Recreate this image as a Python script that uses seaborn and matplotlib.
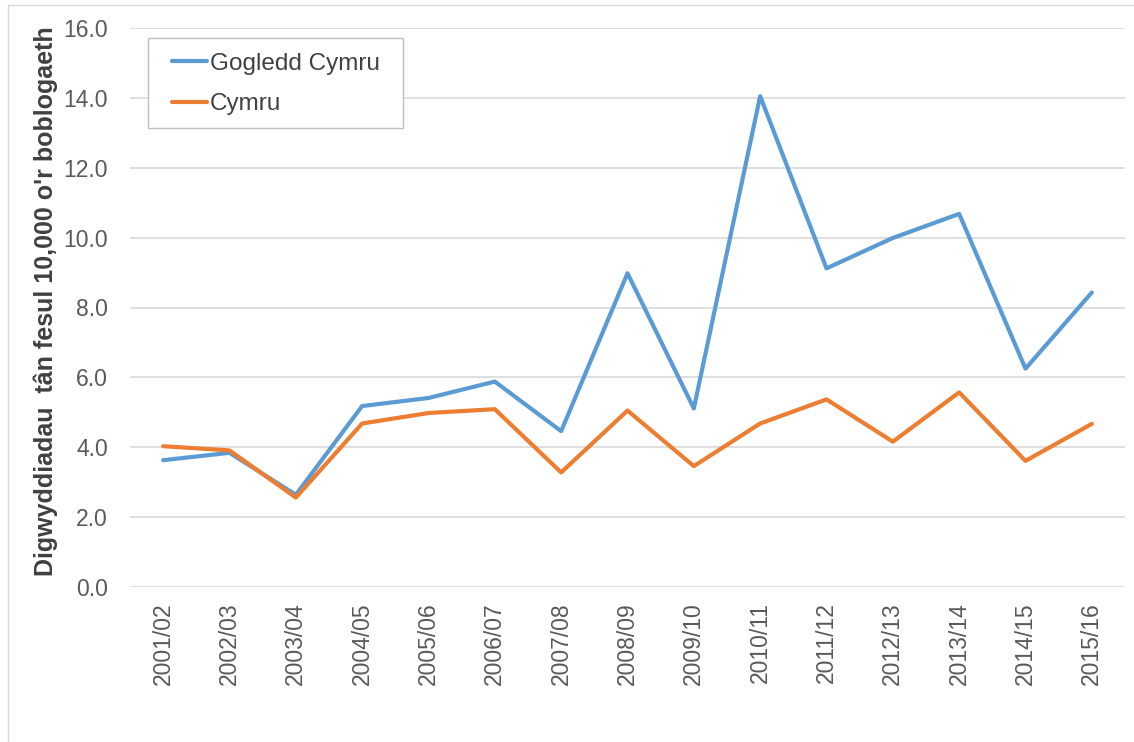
import matplotlib
matplotlib.use("Agg")
import matplotlib.pyplot as plt
import seaborn as sns
import pandas as pd
from matplotlib.patches import Rectangle
from matplotlib.lines import Line2D

years = ["2001/02", "2002/03", "2003/04", "2004/05", "2005/06", "2006/07", "2007/08",
         "2008/09", "2009/10", "2010/11", "2011/12", "2012/13", "2013/14", "2014/15", "2015/16"]
gogledd_cymru = [3.63, 3.84, 2.64, 5.18, 5.41, 5.88, 4.46, 8.98, 5.11, 14.05, 9.12, 9.99, 10.68, 6.25, 8.43]
cymru = [4.03, 3.91, 2.56, 4.68, 4.98, 5.09, 3.28, 5.05, 3.46, 4.68, 5.37, 4.16, 5.57, 3.61, 4.67]
series_names = ["Gogledd Cymru", "Cymru"]
colors = ["#5B9BD5", "#ED7D31"]
y_ticks = [0, 2, 4, 6, 8, 10, 12, 14, 16]
y_label = "Digwyddiadau  tân fesul 10,000 o'r boblogaeth"

df = pd.DataFrame({
    "Blwyddyn": years * 2,
    "Gwerth": gogledd_cymru + cymru,
    "Cyfres": [series_names[0]] * len(years) + [series_names[1]] * len(years),
})
df["x"] = list(range(len(years))) * 2

sns.set_style("white")
plt.rcParams["font.family"] = ["Liberation Sans", "DejaVu Sans"]

W, H = 1134, 742
fig = plt.figure(figsize=(W / 100, H / 100), dpi=100)
ax = fig.add_axes([130 / W, 1 - 587 / H, (1125 - 130) / W, (587 - 28) / H])

sns.lineplot(data=df, x="x", y="Gwerth", hue="Cyfres", palette=colors,
             hue_order=series_names, linewidth=3.0, ax=ax, legend=False)

ax.set_xlim(-0.5, len(years) - 0.5)
ax.set_ylim(0, 16)
ax.set_yticks(y_ticks)
ax.set_yticklabels([f"{v:.1f}" for v in y_ticks])
ax.set_xticks(range(len(years)))
ax.set_xticklabels(years, rotation=90)
ax.tick_params(axis="y", length=0, pad=16, labelsize=16.5, labelcolor="#595959")
ax.tick_params(axis="x", length=0, pad=11, labelsize=16.5, labelcolor="#595959")
ax.grid(axis="y", color="#d9d9d9", linewidth=1.2)
ax.grid(axis="x", visible=False)
ax.set_axisbelow(True)
for s in ax.spines.values():
    s.set_visible(False)

ax.set_xlabel("")
ax.set_ylabel(y_label, fontsize=18, fontweight="bold", color="#404040")
ax.yaxis.set_label_coords(-0.072, 0.512)

# Legend frame
ax.add_patch(Rectangle((18 / 995, 1 - 100 / 559), (403 - 148) / 995, 90 / 559,
                       transform=ax.transAxes, facecolor="white", edgecolor="#bfbfbf",
                       linewidth=1.0, zorder=5))
handles = [Line2D([], [], color=c, linewidth=3.0) for c in colors]
leg = ax.legend(handles, series_names, loc="center left",
                bbox_to_anchor=((172 - 130) / 995, 1 - (84 - 28) / 559),
                frameon=False, fontsize=17.5, handlelength=1.45, handletextpad=0.1,
                labelspacing=0.75, borderpad=0, borderaxespad=0)
leg.set_zorder(6)
for t in leg.get_texts():
    t.set_color("#404040")

# Outer light border
fig.add_artist(Line2D([8 / W, 1], [1 - 5 / H, 1 - 5 / H], transform=fig.transFigure,
                      color="#d9d9d9", linewidth=1.0))
fig.add_artist(Line2D([8 / W, 8 / W], [0, 1 - 5 / H], transform=fig.transFigure,
                      color="#d9d9d9", linewidth=1.0))

fig.savefig("out.png", dpi=100)
